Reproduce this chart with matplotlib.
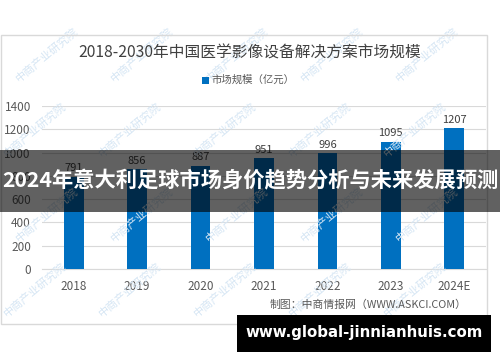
import matplotlib.pyplot as plt
from matplotlib.patches import Rectangle

plt.rcParams['font.family'] = ['Noto Sans CJK SC', 'DejaVu Sans']

years = ['2018', '2019', '2020', '2021', '2022', '2023', '2024E']
market_size = [791, 856, 887, 951, 996, 1095, 1207]
y_ticks = [0, 200, 400, 600, 800, 1000, 1200, 1400]

title = '2018-2030年中国医学影像设备解决方案市场规模'
legend_label = '市场规模（亿元）'
source = '制图：中商情报网（WWW.ASKCI.COM）'
banner = '2024年意大利足球市场身价趋势分析与未来发展预测'
site = 'www.global-jinnianhuis.com'
watermark = '中商产业研究院'

W, H = 500, 362
fig = plt.figure(figsize=(W / 100, H / 100), dpi=100)
fig.patch.set_facecolor('white')

def fx(px):
    return px / W

def fy(py):
    return 1 - py / H

# chart frame
fig.patches.append(Rectangle((fx(1), fy(324)), fx(486), 289 / H, transform=fig.transFigure,
                             facecolor='none', edgecolor='#d9d9d9', lw=1))

# faint watermark stamps
for row_y in [55, 130, 215, 290]:
    for col_x in [35, 130, 225, 320, 415]:
        fig.text(fx(col_x + (row_y % 2) * 12), fy(row_y), watermark, rotation=40,
                 fontsize=8, color='#d6e6f4', ha='center', va='center', zorder=0)

ax = fig.add_axes([fx(42), fy(269), fx(444), 163 / H])
ax.patch.set_alpha(0)
x = range(len(years))
ax.bar(x, market_size, width=0.31, color='#0070C0', zorder=3)
for i, v in zip(x, market_size):
    ax.text(i, v + 30, str(v), ha='center', va='bottom', fontsize=8, color='#404040')

ax.set_xlim(-0.5, 6.5)
ax.set_ylim(0, 1400)
ax.set_yticks(y_ticks)
ax.set_xticks(list(x))
ax.set_xticklabels(years)
ax.tick_params(length=0, labelsize=8.5, labelcolor='#595959')
ax.tick_params(axis='x', pad=8)
ax.tick_params(axis='y', pad=8)
ax.grid(axis='y', color='#d9d9d9', lw=0.8, zorder=0)
for s in ax.spines.values():
    s.set_visible(False)
ax.spines['bottom'].set_visible(True)
ax.spines['bottom'].set_color('#d9d9d9')

fig.text(0.5, fy(53), title, ha='center', va='center', fontsize=11.3, color='#404040')
fig.patches.append(Rectangle((fx(202), fy(84)), fx(7), 7 / H, transform=fig.transFigure,
                             facecolor='#0070C0', edgecolor='none'))
fig.text(fx(212), fy(80), legend_label, ha='left', va='center', fontsize=7.5, color='#595959')
fig.text(fx(270), fy(305), source, ha='left', va='center', fontsize=7.8, color='#595959')

# dark banner overlay
fig.patches.append(Rectangle((0, fy(212)), 1, 62 / H, transform=fig.transFigure,
                             facecolor='black', alpha=0.62, edgecolor='none', zorder=10))
fig.text(0.5, fy(181), banner, ha='center', va='center', fontsize=15.3, color='white',
         fontweight='bold', zorder=11)

# site label box
fig.patches.append(Rectangle((fx(237), fy(352)), fx(254), 37 / H, transform=fig.transFigure,
                             facecolor='black', edgecolor='none', zorder=10))
fig.text(fx(364), fy(333), site, ha='center', va='center', fontsize=10.8, color='white',
         fontweight='bold', family=['DejaVu Sans'], zorder=11)

fig.savefig('out.png', dpi=100)
